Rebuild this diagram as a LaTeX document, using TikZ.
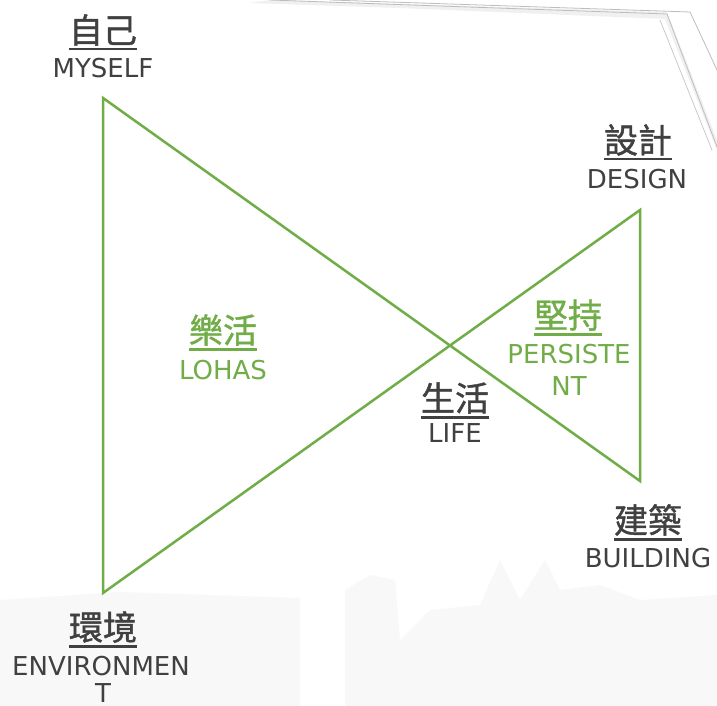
\documentclass[tikz,border=0pt]{standalone}
\usepackage{fontspec}
\setmainfont{DejaVu Sans}
\newfontfamily\cjk[FakeBold=1.2]{Noto Sans CJK TC}
\definecolor{lineg}{HTML}{70AD47}
\definecolor{txtgray}{HTML}{404040}
\definecolor{sketch}{HTML}{BDBDBD}
\definecolor{faint}{HTML}{F8F8F8}
\newcommand\myul[1]{\setbox0\hbox{#1}\rlap{\usebox0}\rule[-7.5pt]{\wd0}{2.8pt}}
\tikzset{
  zh/.style={font=\cjk\fontsize{34}{34}\selectfont, text=txtgray, anchor=base, inner sep=0pt},
  en/.style={font=\fontsize{26}{26}\selectfont, text=txtgray, anchor=base, inner sep=0pt},
  green/.style={text=lineg},
  tri/.style={draw=lineg, line width=2.5pt, line join=miter}
}
\begin{document}
\begin{tikzpicture}[x=1pt,y=-1pt]
\useasboundingbox (0,0) rectangle (717,706);
\fill[white] (0,0) rectangle (717,706);
% faint background skyline
\fill[faint] (0,600) -- (120,592) -- (300,598) -- (300,706) -- (0,706) -- cycle;
\fill[faint] (345,590) -- (370,575) -- (395,580) -- (400,640) -- (430,610) -- (480,605) -- (500,560) -- (520,600) -- (545,560) -- (560,590) -- (600,585) -- (640,600) -- (717,595) -- (717,706) -- (345,706) -- cycle;
% sketched frame at top right
\fill[black!6] (270,0) -- (667,12) -- (717,140) -- (717,150) -- (665,19) -- (400,8) -- (250,3) -- cycle;
\draw[sketch, line width=0.8pt] (270,0) -- (667,14) -- (717,147);
\draw[sketch, line width=0.8pt] (330,0) -- (690,12) -- (717,70);
\draw[sketch, line width=0.6pt] (660,20) -- (712,150);
% triangles
\coordinate (A) at (103,98);
\coordinate (B) at (103,593);
\coordinate (D) at (640,210);
\coordinate (C) at (640,481);
\draw[tri] (A) -- (C) -- (D) -- (B) -- cycle;
% labels
\node[zh] (myselfzh) at (103,43) {\myul{自己}};
\node[en] (myselfen) at (103,78) {MYSELF};
\node[zh] (designzh) at (638,153) {\myul{設計}};
\node[en] (designen) at (637,188) {DESIGN};
\node[zh] (buildzh) at (648,533) {\myul{建築}};
\node[en] (builden) at (648,567) {BUILDING};
\node[zh] (envzh) at (103,640) {\myul{環境}};
\node[en] (enven) at (101,675) {ENVIRONMEN};
\node[en] (envent) at (103,702) {T};
\node[zh,green] (lohaszh) at (223,343) {\myul{樂活}};
\node[en,green] (lohasen) at (223,379) {LOHAS};
\node[zh,green] (perszh) at (568,328) {\myul{堅持}};
\node[en,green] (persen) at (569,363) {PERSISTE};
\node[en,green] (persent) at (569,395) {NT};
\node[zh] (lifezh) at (455,411) {\myul{生活}};
\node[en] (lifeen) at (455,442) {LIFE};
\end{tikzpicture}
\end{document}
